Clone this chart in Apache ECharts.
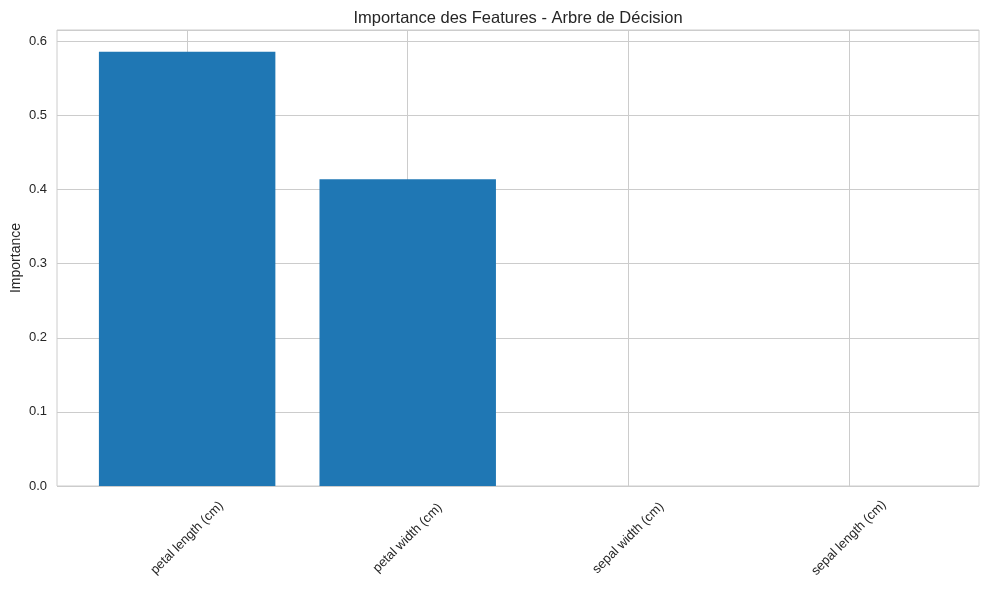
<!DOCTYPE html>
<html>
<head>
<meta charset="utf-8">
<script src="https://cdn.jsdelivr.net/npm/echarts@6/dist/echarts.min.js"></script>
<style>
  html, body { margin: 0; padding: 0; background: #fff; }
  #chart { width: 989px; height: 590px; }
</style>
</head>
<body>
<div id="chart"></div>
<script>
// features triées par importance
const features = ['petal length (cm)', 'petal width (cm)', 'sepal width (cm)', 'sepal length (cm)']
const importances = [0.586, 0.414, 0.0, 0.0]
const yTicks = [0, 0.1, 0.2, 0.3, 0.4, 0.5, 0.6]

const xMin = -0.59
const xMax = 3.59
const gridLeft = 57
const gridRight = 10
const textColor = '#262626'
const gridColor = '#cccccc'

let chart = echarts.init(document.getElementById('chart'))
const plotW = chart.getWidth() - gridLeft - gridRight
const barW = plotW / (xMax - xMin) * 0.8

let option = {
  backgroundColor: '#ffffff',
  animation: false,
  textStyle: {fontFamily: 'Liberation Sans, Arial, sans-serif', color: textColor},
  title: {
    text: 'Importance des Features - Arbre de Décision',
    left: 513,
    top: 5,
    textAlign: 'center',
    textStyle: {fontSize: 16.5, fontWeight: 'normal', color: textColor}
  },
  grid: {
    left: gridLeft,
    right: gridRight,
    top: 30,
    bottom: 104,
    show: true,
    borderColor: gridColor,
    borderWidth: 1,
    containLabel: false,
    outerBoundsMode: 'none'
  },
  xAxis: {
    type: 'value',
    min: xMin,
    max: xMax,
    axisLine: {show: false},
    axisTick: {show: false, customValues: [0, 1, 2, 3]},
    splitLine: {show: true, lineStyle: {color: gridColor, width: 1}},
    axisLabel: {
      customValues: [0, 1, 2, 3],
      formatter: function (v) {
        return features[Math.round(v)] || ''
      },
      rotate: 45,
      align: 'center',
      verticalAlign: 'middle',
      margin: 52,
      fontSize: 13,
      color: textColor
    }
  },
  yAxis: {
    type: 'value',
    min: 0,
    max: 0.6155,
    interval: 0.1,
    name: 'Importance',
    nameLocation: 'middle',
    nameGap: 34,
    nameMoveOverlap: false,
    nameRotate: 90,
    nameTextStyle: {fontSize: 14, color: textColor},
    axisLine: {show: false},
    axisTick: {show: false},
    splitLine: {show: true, lineStyle: {color: gridColor, width: 1}},
    axisLabel: {
      showMaxLabel: false,
      margin: 10,
      fontSize: 13,
      color: textColor,
      formatter: function (v) {
        if (Math.abs(v * 10 - Math.round(v * 10)) > 1e-6) return ''
        return v.toFixed(1)
      }
    }
  },
  series: [
    {
      type: 'bar',
      barWidth: barW,
      itemStyle: {color: '#1f77b4'},
      data: importances.map((v, i) => [i, v])
    }
  ]
}
chart.setOption(option)
window.addEventListener('resize', () => {
  chart.resize()
})
</script>
</body>
</html>
